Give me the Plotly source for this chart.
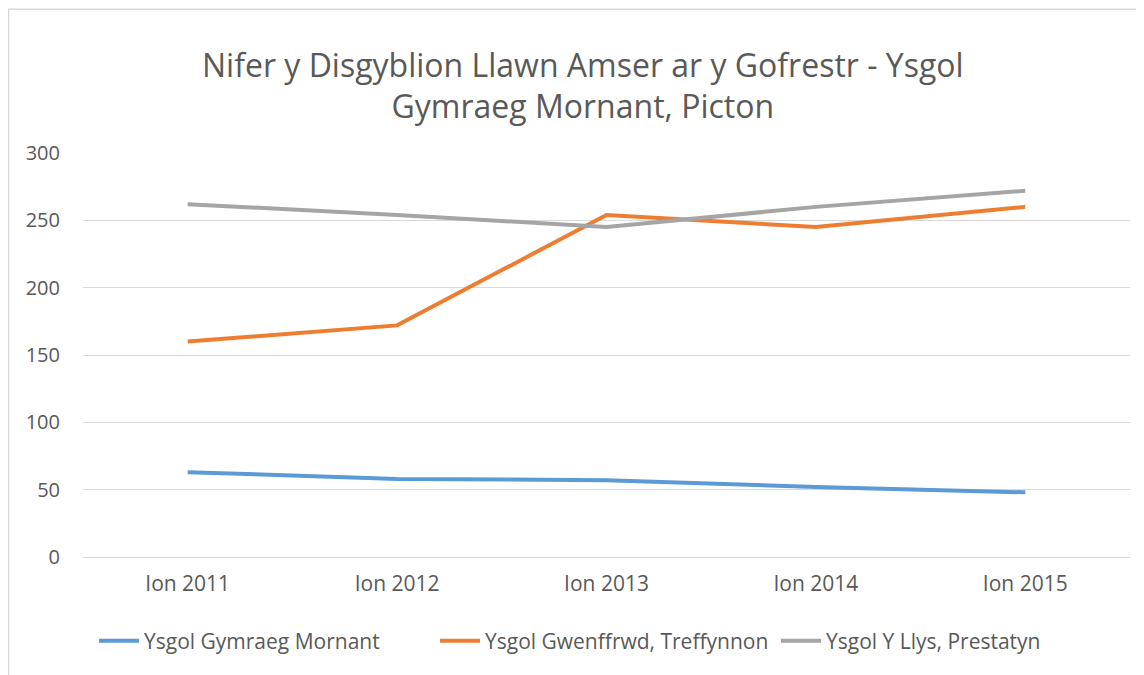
import plotly.graph_objects as go

categories = ["Ion 2011", "Ion 2012", "Ion 2013", "Ion 2014", "Ion 2015"]
mornant = [63, 58, 57, 52, 48]
gwenffrwd = [160, 172, 254, 245, 260]
llys = [262, 254, 245, 260, 272]

series_names = ["Ysgol Gymraeg Mornant", "Ysgol Gwenffrwd, Treffynnon", "Ysgol Y Llys, Prestatyn"]
series_values = [mornant, gwenffrwd, llys]
colors = ["#5B9BD5", "#ED7D31", "#A5A5A5"]

FONT = "Open Sans"
TXT = "#595959"

fig = go.Figure()
for name, vals, col in zip(series_names, series_values, colors):
    fig.add_trace(go.Scatter(x=categories, y=vals, name=name, mode="lines",
                             line=dict(color=col, width=4)))

fig.update_layout(
    width=1136, height=667,
    paper_bgcolor="white", plot_bgcolor="white",
    margin=dict(l=75, r=14, t=145, b=118),
    font=dict(family=FONT, color=TXT, size=20),
    title=dict(text="Nifer y Disgyblion Llawn Amser ar y Gofrestr - Ysgol<br>Gymraeg Mornant, Picton",
               x=0.506, xanchor="center", y=0.897, yanchor="middle",
               font=dict(family=FONT, size=32, color=TXT)),
    showlegend=True,
    legend=dict(orientation="h", x=0.0105, xanchor="left", y=-0.208, yanchor="middle",
                font=dict(family=FONT, size=21, color=TXT), itemwidth=40,
                entrywidth=286, entrywidthmode="pixels", traceorder="normal"),
    xaxis=dict(type="category", range=[-0.5, 4.5], showgrid=False, showline=False,
               zeroline=False, ticks="", tickfont=dict(size=21, color=TXT), ticklabelstandoff=12),
    yaxis=dict(range=[0, 300], dtick=50, showgrid=True, gridcolor="#D9D9D9", gridwidth=1,
               zeroline=True, zerolinecolor="#D9D9D9", zerolinewidth=1, showline=False,
               ticks="", tickfont=dict(size=20, color=TXT), ticklabelstandoff=22),
    shapes=[dict(type="rect", xref="paper", yref="paper", x0=-0.0711, x1=1.05, y0=-0.35, y1=1.356,
                 line=dict(color="#D9D9D9", width=1.5), fillcolor="rgba(0,0,0,0)", layer="below")],
)

fig.write_html("out.html")
